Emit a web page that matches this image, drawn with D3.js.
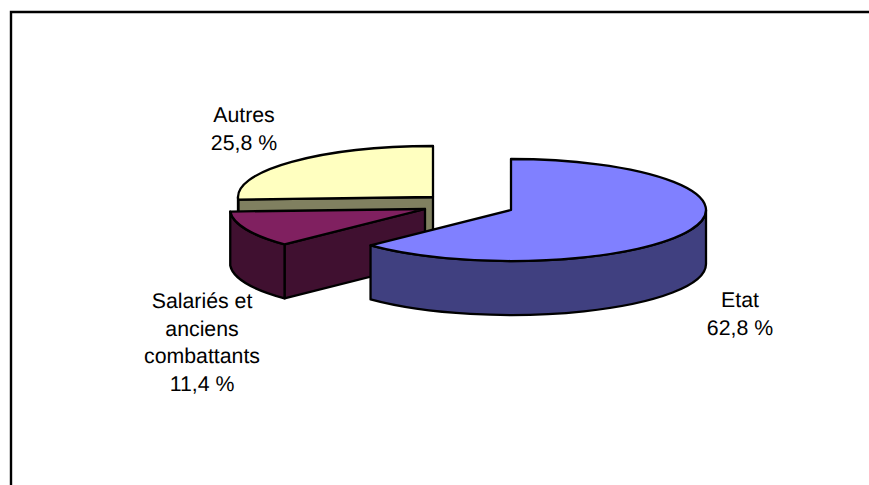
<!DOCTYPE html>
<html>
<head>
<meta charset="utf-8">
<script src="https://cdn.jsdelivr.net/npm/d3@7"></script>
<style>
html,body{margin:0;padding:0;background:#fff;overflow:hidden}
svg{display:block}
text{font-family:"Liberation Sans",Arial,sans-serif;font-size:21.3px;fill:#000;text-anchor:middle;text-rendering:geometricPrecision}
</style>
</head>
<body>
<svg id="chart" width="869" height="485"></svg>
<script>
const categories = ["Etat", "Salariés et anciens combattants", "Autres"];
const values = [62.8, 11.4, 25.8];
const labelLines = [["Etat","62,8 %"],["Salariés et","anciens","combattants","11,4 %"],["Autres","25,8 %"]];
const topColors = ["#8080ff", "#802060", "#ffffc0"];
const sideColors = ["#404080", "#401030", "#808060"];

const W = 869, H = 485;
const rx = 195, ry = 51, depth = 54;
const centers = [[511,210],[425,209],[433,197]];
const labelPos = [[740,307,28],[202,308,27.7],[244,122,27.5]];

const svg = d3.select("#chart");
svg.append("path").attr("d", d3.line()([[W,12],[11,12],[11,H]]))
  .attr("fill","none").attr("stroke","#000").attr("stroke-width",2.4);

const pie = d3.pie().sort(null).value(d => d);
const arcs = pie(values);

const pt = (c,a,dy=0) => [c[0]+rx*Math.sin(a), c[1]-ry*Math.cos(a)+dy];

function topPath(c,a0,a1){
  const p0 = pt(c,a0), p1 = pt(c,a1);
  const large = a1-a0 > Math.PI ? 1 : 0;
  return `M${c[0]},${c[1]}L${p0[0]},${p0[1]}A${rx},${ry} 0 ${large} 1 ${p1[0]},${p1[1]}Z`;
}
function wallPath(c,a0,a1){
  const s = pt(c,a0), e = pt(c,a1), s2 = pt(c,a0,depth), e2 = pt(c,a1,depth);
  return `M${s[0]},${s[1]}A${rx},${ry} 0 0 1 ${e[0]},${e[1]}L${e2[0]},${e2[1]}A${rx},${ry} 0 0 0 ${s2[0]},${s2[1]}Z`;
}
function radialWall(c,a){
  const p = pt(c,a), p2 = pt(c,a,depth);
  return d3.line()([c,p,p2,[c[0],c[1]+depth]])+"Z";
}

const seg = svg.append("g").attr("stroke","#000").attr("stroke-width",2.3).attr("stroke-linejoin","round");
// back to front: Autres, Salariés, Etat
[2,1,0].forEach(i => {
  const a = arcs[i], c = centers[i];
  const g = seg.append("g").attr("data-name", categories[i]);
  const sf = sideColors[i];
  const w0 = Math.max(a.startAngle, Math.PI/2), w1 = Math.min(a.endAngle, 1.5*Math.PI);
  if (a.startAngle > Math.PI) g.append("path").attr("d", radialWall(c,a.startAngle)).attr("fill",sf);
  if (w1 > w0) g.append("path").attr("d", wallPath(c,w0,w1)).attr("fill",sf);
  g.append("path").attr("d", topPath(c,a.startAngle,a.endAngle)).attr("fill",topColors[i]);
});

labelLines.forEach((lines,i) => {
  const [x,y,dy] = labelPos[i];
  const t = svg.append("text").attr("x",x).attr("y",y);
  lines.forEach((l,k) => t.append("tspan").attr("x",x).attr("y",y+k*dy).text(l));
});
</script>
</body>
</html>
